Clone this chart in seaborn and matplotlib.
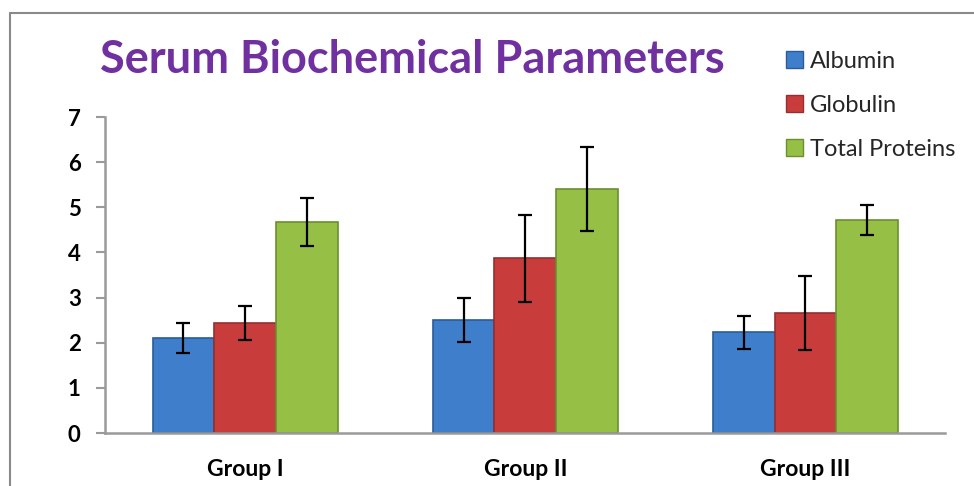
import matplotlib
matplotlib.use("Agg")
import matplotlib.pyplot as plt
import seaborn as sns
import pandas as pd
from matplotlib.lines import Line2D

groups = ["Group I", "Group II", "Group III"]
series = ["Albumin", "Globulin", "Total Proteins"]
albumin = [2.11, 2.50, 2.23]
globulin = [2.44, 3.87, 2.66]
total_proteins = [4.67, 5.41, 4.72]
albumin_err = [0.33, 0.49, 0.36]
globulin_err = [0.38, 0.97, 0.82]
total_err = [0.53, 0.93, 0.34]
yticks = [0, 1, 2, 3, 4, 5, 6, 7]
title = "Serum Biochemical Parameters"

values = {"Albumin": albumin, "Globulin": globulin, "Total Proteins": total_proteins}
errors = {"Albumin": albumin_err, "Globulin": globulin_err, "Total Proteins": total_err}
rows = []
for s in series:
    for g, v in zip(groups, values[s]):
        rows.append({"Group": g, "Parameter": s, "Value": v})
df = pd.DataFrame(rows)

sns.set_theme(style="white")
plt.rcParams["font.family"] = ["Lato", "DejaVu Sans"]

colors = ["#3f7ecb", "#c83d3c", "#95c045"]
edges = ["#2a5c9a", "#933030", "#6c8e2e"]

fig = plt.figure(figsize=(9.74, 4.86), dpi=100)
ax = fig.add_axes([105 / 974, 1 - 433 / 486, (945.5 - 105) / 974, (433 - 117) / 486])

sns.barplot(data=df, x="Group", y="Value", hue="Parameter", palette=colors,
            width=0.66, errorbar=None, ax=ax, legend=False, saturation=1)

for cont, s, ec in zip(ax.containers, series, edges):
    xs = []
    for bar in cont:
        bar.set_edgecolor(ec)
        bar.set_linewidth(1.2)
        xs.append(bar.get_x() + bar.get_width() / 2)
    ax.errorbar(xs, values[s], yerr=errors[s], fmt="none", ecolor="black",
                elinewidth=1.6, capsize=5, capthick=1.6, zorder=5)

ax.set_ylim(0, 7)
ax.set_xlim(-0.5, 2.5)
ax.set_yticks(yticks)
ax.set_yticklabels([str(t) for t in yticks], fontsize=16, fontweight="bold")
ax.set_xticks(range(len(groups)))
ax.set_xticklabels(groups, fontsize=16.5, fontweight="bold")
ax.set_xlabel("")
ax.set_ylabel("")
for sp in ["top", "right"]:
    ax.spines[sp].set_visible(False)
for sp in ["left", "bottom"]:
    ax.spines[sp].set_color("#9a9a9a")
    ax.spines[sp].set_linewidth(1.8)
ax.tick_params(axis="y", which="both", left=True, length=6.5, width=1.5,
               color="#9a9a9a", pad=11, labelcolor="black")
ax.tick_params(axis="x", bottom=False, pad=13, labelcolor="black")

fig.text(412 / 974, 1 - 60 / 486, title, ha="center", va="center",
         fontsize=32.5, fontweight="bold", color="#7030a0")

handles = [plt.Rectangle((0, 0), 1, 1, facecolor=c, edgecolor=e, lw=1)
           for c, e in zip(colors, edges)]
fig.legend(handles, series, loc="upper left", bbox_to_anchor=(786 / 974, 1 - 51 / 486),
           frameon=False, fontsize=17, labelspacing=0.97, handlelength=0.7,
           handleheight=0.7, handletextpad=0.3, borderaxespad=0, borderpad=0)

# outer frame (left and top edges visible)
fig.add_artist(Line2D([10 / 974, 10 / 974], [0, 1 - 13 / 486], color="#8a8a8a", lw=1.5))
fig.add_artist(Line2D([10 / 974, 1], [1 - 13 / 486, 1 - 13 / 486], color="#8a8a8a", lw=1.5))

fig.savefig("out.png", dpi=100)
